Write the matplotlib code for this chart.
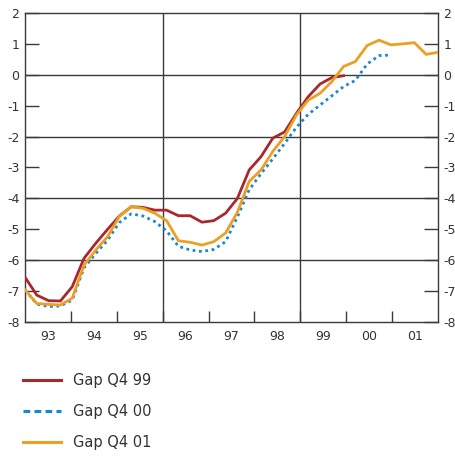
import numpy as np
import matplotlib
matplotlib.use("Agg")
import matplotlib.pyplot as plt
from matplotlib.lines import Line2D
from matplotlib.ticker import FixedLocator, NullFormatter

# Quarterly output gap estimates, 1993 Q1 onwards
gap_q4_99 = [-6.55, -7.13, -7.31, -7.32, -6.86, -5.94, -5.45, -5.00, -4.57, -4.27,
             -4.29, -4.38, -4.38, -4.56, -4.56, -4.77, -4.72, -4.48, -4.00, -3.08,
             -2.65, -2.05, -1.85, -1.25, -0.71, -0.30, -0.09, -0.03]
gap_q4_00 = [-6.96, -7.42, -7.50, -7.48, -7.29, -6.25, -5.78, -5.35, -4.78, -4.50,
             -4.57, -4.75, -5.05, -5.55, -5.67, -5.72, -5.65, -5.40, -4.60, -3.72,
             -3.20, -2.72, -2.22, -1.70, -1.28, -0.98, -0.68, -0.38, -0.18, 0.35,
             0.62, 0.64]
gap_q4_01 = [-6.96, -7.40, -7.43, -7.45, -7.23, -6.16, -5.67, -5.24, -4.58, -4.27,
             -4.32, -4.48, -4.72, -5.37, -5.42, -5.51, -5.40, -5.12, -4.45, -3.45,
             -3.08, -2.48, -2.00, -1.30, -0.82, -0.60, -0.22, 0.27, 0.43, 0.95,
             1.12, 0.97, 1.00, 1.04, 0.66, 0.73]

year_labels = ["93", "94", "95", "96", "97", "98", "99", "00", "01"]
series_labels = ["Gap Q4 99", "Gap Q4 00", "Gap Q4 01"]

first_year = 1993
n_quarters = len(gap_q4_01)
t = np.linspace(first_year, first_year + len(year_labels), n_quarters)

red = "#A8282E"
blue = "#1A86D0"
orange = "#EBA023"
axis_col = "#3a3a3a"

plt.rcParams["font.family"] = ["DejaVu Sans"]

fig = plt.figure(figsize=(4.55, 4.58), dpi=100)
ax = fig.add_axes([25 / 455, 1 - 322 / 458, 413 / 455, 309 / 458])

ax.set_xlim(first_year, first_year + len(year_labels))
ax.set_ylim(-8, 2)

# grid lines
for y in [0, -2, -4, -6]:
    ax.axhline(y, color=axis_col, lw=1.0, zorder=1)
for x in [1996, 1999]:
    ax.axvline(x, color=axis_col, lw=1.0, zorder=1)

lw = 2.0
ax.plot(t[:len(gap_q4_99)], gap_q4_99, color=red, lw=lw, zorder=3,
        solid_joinstyle="round")
ax.plot(t[:len(gap_q4_00)], gap_q4_00, color=blue, lw=lw, zorder=2,
        linestyle=(0, (1, 1.3)))
ax.plot(t[:len(gap_q4_01)], gap_q4_01, color=orange, lw=lw, zorder=4,
        solid_joinstyle="round")

for s in ax.spines.values():
    s.set_color(axis_col)
    s.set_linewidth(1.0)

# y axis: ticks on both sides, pointing inward
ax.set_yticks(np.arange(-8, 3, 1))
ax.set_yticklabels([str(v) for v in range(-8, 3)])
ax.tick_params(axis="y", which="major", direction="in", length=10, width=1,
               color=axis_col, left=True, right=True, labelleft=True,
               labelright=True, labelsize=9, pad=5, labelcolor="#333333")
ax.tick_params(axis="y", which="major", labelright=True, pad=4)

# x axis: labels centred on the years, ticks at year boundaries
ax.xaxis.set_major_locator(FixedLocator([first_year + i + 0.5 for i in range(len(year_labels))]))
ax.set_xticklabels(year_labels)
ax.xaxis.set_minor_locator(FixedLocator([first_year + i for i in range(1, len(year_labels))]))
ax.xaxis.set_minor_formatter(NullFormatter())
ax.tick_params(axis="x", which="major", length=0, labelsize=9, pad=6,
               labelcolor="#333333")
ax.tick_params(axis="x", which="minor", direction="in", length=8, width=1,
               color=axis_col)

handles = [
    Line2D([], [], color=red, lw=2.2),
    Line2D([], [], color=blue, lw=2.2, linestyle=(0, (2.2, 1.4))),
    Line2D([], [], color=orange, lw=2.2),
]
fig.legend(handles, series_labels, loc="upper left",
           bbox_to_anchor=(23 / 455, 1 - 373 / 458), frameon=False,
           fontsize=10.5, handlelength=2.6, handletextpad=0.85,
           labelspacing=1.1, borderpad=0, borderaxespad=0,
           labelcolor="#333333")

fig.savefig("out.png", dpi=100)
